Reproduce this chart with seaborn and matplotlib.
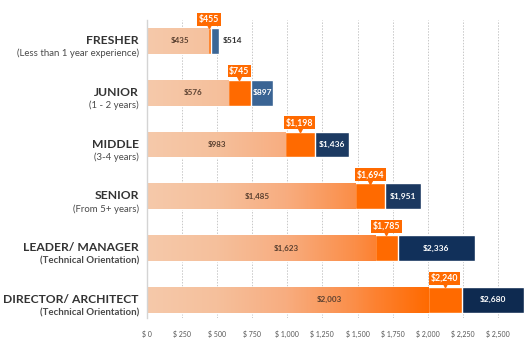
import numpy as np
import pandas as pd
import matplotlib.pyplot as plt
import seaborn as sns
from matplotlib.colors import LinearSegmentedColormap

# Dati
levels = ["FRESHER", "JUNIOR", "MIDDLE", "SENIOR", "LEADER/ MANAGER", "DIRECTOR/ ARCHITECT"]
subtitles = ["(Less than 1 year experience)", "(1 - 2 years)", "(3-4 years)",
             "(From 5+ years)", "(Technical Orientation)", "(Technical Orientation)"]
low = [435, 576, 983, 1485, 1623, 2003]
mid = [455, 745, 1198, 1694, 1785, 2240]
high = [514, 897, 1436, 1951, 2336, 2680]
xticks = list(range(0, 2501, 250))

df = pd.DataFrame({"level": levels, "low": low, "mid": mid, "high": high})

# Stile
sns.set_style("white")
plt.rcParams["font.family"] = ["Lato", "DejaVu Sans"]

orange = "#ff6a00"
blues = ["#3b6695", "#3a6494", "#1c3a62", "#1b3860", "#11305a", "#0e2a50"]
sub_weights = ["normal", "normal", "normal", "normal", "bold", "bold"]
low_label_frac = [0.55, 0.57, 0.51, 0.53, 0.61, 0.65]
BAR_W = 0.5

fig = plt.figure(figsize=(5.32, 3.54), dpi=100)
ax = fig.add_axes([0.2754, 0.1017, 0.7209, 0.8418])

# Barre sovrapposte: alto (blu), medio (arancio), basso (gradiente)
sns.barplot(data=df, y="level", x="high", hue="level", palette=blues, legend=False,
            width=BAR_W, saturation=1, orient="h", ax=ax)
sns.barplot(data=df, y="level", x="mid", color=orange,
            width=BAR_W, saturation=1, orient="h", ax=ax)
sns.barplot(data=df, y="level", x="low", color="#f6c6a4",
            width=BAR_W, saturation=1, orient="h", ax=ax)

# Gradiente sul segmento basso
grad_cmap = LinearSegmentedColormap.from_list(
    "peach",
    [(0.0, "#f6c9aa"), (0.24, "#f5c09c"), (0.48, "#f8ad80"),
     (0.72, "#fb8e48"), (0.79, "#fd8232"), (0.98, "#ff6a00"), (1.0, "#ff6a00")])
low_patches = ax.patches[-len(levels):]
for p in low_patches:
    w = p.get_width()
    xs = np.linspace(0, w, 300)[None, :]
    im = ax.imshow(xs, extent=[0, w, p.get_y() + p.get_height(), p.get_y()],
                   cmap=grad_cmap, vmin=0, vmax=2050, aspect="auto",
                   interpolation="bilinear", zorder=1.5)
    im.set_clip_path(p)

ax.set_xlim(0, 2726)
ax.set_ylim(5.35, -0.405)

# Etichette dei valori
for i in range(len(levels)):
    top = i - BAR_W / 2
    # basso
    ax.text(low[i] * low_label_frac[i], i, f"${low[i]:,}", ha="center", va="center",
            fontsize=5.8, fontweight="bold", color="#5a4030", zorder=3)
    # medio (riquadro arancio)
    cx = (low[i] + mid[i]) / 2
    ax.annotate(f"${mid[i]:,}", xy=(cx, top), xytext=(0, 3.0), textcoords="offset points",
                ha="center", va="bottom", fontsize=6.3, fontweight="bold", color="white",
                bbox=dict(boxstyle="square,pad=0.2", fc=orange, ec="none"), zorder=4)
    ax.plot(cx, top - 0.035, marker="v", ms=3, color=orange, zorder=4)
    # alto
    if high[i] - mid[i] > 120:
        ax.text((mid[i] + high[i]) / 2, i, f"${high[i]:,}", ha="center", va="center",
                fontsize=6, fontweight="bold", color="white", zorder=3)
    else:
        ax.annotate(f"${high[i]:,}", xy=(high[i], i), xytext=(2.5, 0),
                    textcoords="offset points", ha="left", va="center",
                    fontsize=6, fontweight="bold", color="#333333", zorder=3)

# Etichette categorie (titolo + sottotitolo)
ytr = ax.get_yaxis_transform()
for i, (t, s) in enumerate(zip(levels, subtitles)):
    ax.text(-0.02, i - 0.01, t, transform=ytr, ha="right", va="center",
            fontsize=8.7, fontweight="bold", color="#333333")
    ax.text(-0.02, i + 0.245, s, transform=ytr, ha="right", va="center",
            fontsize=6.9, fontweight=sub_weights[i], color="#4a4a4a")

ax.set_yticks([])
ax.set_ylabel("")
ax.set_xlabel("")
ax.set_xticks(xticks)
ax.set_xticklabels([f"$ {v:,}" for v in xticks])
ax.tick_params(axis="x", length=0, pad=9, labelsize=5, labelcolor="#555555")

# Griglia e assi
ax.grid(axis="x", linestyle=(0, (1.5, 1.5)), color="#c8c8c8", linewidth=0.7, zorder=0)
ax.set_axisbelow(True)
for side in ["top", "right", "bottom"]:
    ax.spines[side].set_visible(False)
ax.spines["left"].set_color("#d4d4d4")
ax.spines["left"].set_linewidth(1.0)

plt.savefig("out.png", dpi=100)
plt.close()
